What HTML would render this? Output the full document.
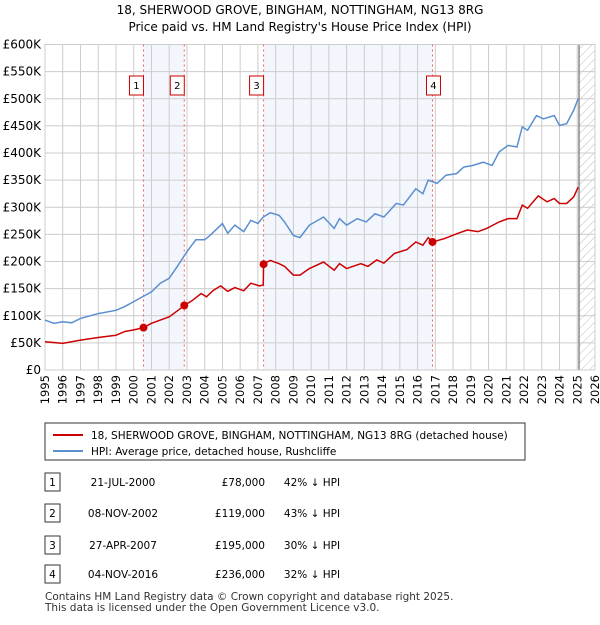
<!DOCTYPE html>
<html><head><meta charset="utf-8"><style>
body{margin:0;background:#fff;font-family:"Liberation Sans","DejaVu Sans",sans-serif;}
svg text{font-family:"DejaVu Sans","Liberation Sans",sans-serif;}
</style></head><body>
<svg width="600" height="620" xmlns="http://www.w3.org/2000/svg">
<defs><pattern id="hatch" width="6" height="6" patternUnits="userSpaceOnUse" patternTransform="rotate(45)"><line x1="0" y1="0" x2="0" y2="6" stroke="#bbb" stroke-width="1"/></pattern></defs>
<text x="300" y="14" text-anchor="middle" font-size="12">18, SHERWOOD GROVE, BINGHAM, NOTTINGHAM, NG13 8RG</text>
<text x="300" y="31" text-anchor="middle" font-size="12">Price paid vs. HM Land Registry's House Price Index (HPI)</text>
<g id="plot"></g>
<g id="legend">
<rect x="45" y="423" width="480" height="37" fill="#fff" stroke="#333"/>
<line x1="53" y1="435" x2="83" y2="435" stroke="#cc0000" stroke-width="2"/>
<text x="91" y="439" font-size="10.5">18, SHERWOOD GROVE, BINGHAM, NOTTINGHAM, NG13 8RG (detached house)</text>
<line x1="53" y1="451" x2="83" y2="451" stroke="#5b8fd0" stroke-width="2"/>
<text x="91" y="455" font-size="10.5">HPI: Average price, detached house, Rushcliffe</text>
</g>
<g id="table" font-size="10.5"></g>
<text x="45" y="600" font-size="10.5" fill="#333">Contains HM Land Registry data © Crown copyright and database right 2025.</text>
<text x="45" y="611" font-size="10.5" fill="#333">This data is licensed under the Open Government Licence v3.0.</text>
</svg>
<script>
const hpiYears=[1995,1995.5,1996,1996.5,1997,1998,1999,1999.5,2000,2000.5,2001,2001.5,2002,2002.5,2003,2003.5,2004,2004.3,2005,2005.3,2005.7,2006.2,2006.6,2007,2007.3,2007.7,2008.2,2008.5,2009,2009.37,2009.9,2010.7,2011.3,2011.6,2012,2012.6,2013.1,2013.6,2014.1,2014.8,2015.2,2015.9,2016.3,2016.6,2017.1,2017.6,2018.2,2018.6,2019.1,2019.7,2020.2,2020.6,2021.1,2021.6,2021.9,2022.2,2022.7,2023.1,2023.7,2024,2024.4,2024.8,2025.05];
const hpiValues=[92,86,89,87,95,104,110,117,126,135,144,160,169,193,218,240,240,248,270,252,267,255,276,270,282,290,285,273,248,244,267,282,261,279,267,279,273,288,282,307,304,334,325,350,344,359,362,374,377,383,377,402,414,411,448,442,469,463,469,451,454,479,500];
const ppYears=[1995,1996,1997,1998,1999,1999.5,2000,2000.55,2001,2001.5,2002,2002.5,2002.85,2003.3,2003.8,2004.1,2004.5,2004.9,2005.3,2005.7,2006.2,2006.6,2007.1,2007.3,2007.32,2007.7,2008.2,2008.5,2009,2009.37,2009.9,2010.7,2011.3,2011.6,2012,2012.8,2013.2,2013.7,2014.1,2014.7,2015.4,2015.9,2016.3,2016.6,2016.84,2017.5,2018.2,2018.8,2019.4,2019.9,2020.6,2021.1,2021.6,2021.9,2022.2,2022.8,2023.3,2023.7,2024,2024.4,2024.8,2025.05];
const ppValues=[52,49,55,60,64,71,74,78,86,92,98,110,119,128,141,135,147,155,145,152,146,160,155,157,196,202,196,191,175,175,187,199,184,196,187,196,191,203,197,215,222,236,230,244,236,242,251,258,255,261,273,279,279,304,298,321,310,316,307,307,319,337];
const saleLabels=["1","2","3","4"];
const saleYears=[2000.55,2002.85,2007.32,2016.84];
const saleValues=[78,119,195,236];
const saleDates=["21-JUL-2000","08-NOV-2002","27-APR-2007","04-NOV-2016"];
const salePrices=["£78,000","£119,000","£195,000","£236,000"];
const salePct=["42% ↓ HPI","43% ↓ HPI","30% ↓ HPI","32% ↓ HPI"];
const yTicks=[0,50,100,150,200,250,300,350,400,450,500,550,600];
const yTickLabels=["£0","£50K","£100K","£150K","£200K","£250K","£300K","£350K","£400K","£450K","£500K","£550K","£600K"];
const xTicks=[1995,1996,1997,1998,1999,2000,2001,2002,2003,2004,2005,2006,2007,2008,2009,2010,2011,2012,2013,2014,2015,2016,2017,2018,2019,2020,2021,2022,2023,2024,2025,2026];
const dataEnd=2025.1;

const X0=45,X1=595,Y0=370,Y1=44.5;
const sx=y=>X0+(y-1995)/(2026-1995)*(X1-X0);
const sy=v=>Y0-v/600*(Y0-Y1);
const NS="http://www.w3.org/2000/svg";
function mk(tag,attrs,parent){const e=document.createElementNS(NS,tag);for(const k in attrs)e.setAttribute(k,attrs[k]);parent.appendChild(e);return e;}
const plot=document.getElementById('plot');
for(let i=0;i<2;i++){
  const a=i===0?0:2;
  const r=mk('rect',{x:sx(saleYears[a]),y:Y1,width:sx(saleYears[a+1])-sx(saleYears[a]),height:Y0-Y1,fill:'#eef3fc',opacity:0.7},plot);
  
  
}
const h=mk('rect',{x:sx(dataEnd),y:Y1,width:X1-sx(dataEnd),height:Y0-Y1,fill:'url(#hatch)'},plot);


yTicks.forEach((v,i)=>{
  const l=mk('line',{x1:X0,x2:X1,y1:sy(v),y2:sy(v),stroke:'#ccc'},plot);
  
  
  const t=mk('text',{x:X0-4,y:sy(v)+4,'text-anchor':'end','font-size':12},plot);
  t.textContent=yTickLabels[i];
  
  
});
xTicks.forEach(y=>{
  const l=mk('line',{x1:sx(y),x2:sx(y),y1:Y1,y2:Y0,stroke:'#ccc'},plot);
  
  
  const x=sx(y)+4, yy=375;
  const t=mk('text',{x:x,y:yy,'text-anchor':'end','font-size':11.5,transform:`rotate(-90 ${x} ${yy})`},plot);
  t.textContent=y;
  
  
});
const dl=mk('line',{x1:sx(dataEnd),x2:sx(dataEnd),y1:Y1,y2:Y0,stroke:'#888','stroke-width':1.5},plot);


const fr=mk('rect',{x:X0,y:Y1,width:X1-X0,height:Y0-Y1,fill:'none',stroke:'#ccc'},plot);


saleYears.forEach((y,i)=>{
  const l=mk('line',{x1:sx(y),x2:sx(y),y1:Y1,y2:Y0,stroke:'#f06060','stroke-dasharray':'2,3'},plot);
  
  
  const bx=sx(y)-(i===3?0:8)-6;
  const r=mk('rect',{x:bx,y:76,width:14,height:19,fill:'#fff',stroke:'#c00'},plot);
  
  
  const t=mk('text',{x:bx+7,y:89,'text-anchor':'middle','font-size':10},plot);
  t.textContent=saleLabels[i];
  
  
});
const hp=mk('polyline',{points:hpiYears.map((y,i)=>sx(y)+','+sy(hpiValues[i])).join(' '),fill:'none',stroke:'#5b8fd0','stroke-width':1.5},plot);


const pp=mk('polyline',{points:ppYears.map((y,i)=>sx(y)+','+sy(ppValues[i])).join(' '),fill:'none',stroke:'#cc0000','stroke-width':1.5},plot);


saleYears.forEach((y,i)=>{
  const c=mk('circle',{cx:sx(y),cy:sy(saleValues[i]),r:4,fill:'#cc0000'},plot);
  
  
});
const tb=document.getElementById('table');
saleLabels.forEach((s,i)=>{
  const yy=[482,513,545,574][i];
  const r=mk('rect',{x:45,y:yy-9,width:15,height:18,fill:'#fff',stroke:'#333'},tb);
  
  
  const cells=[[52.5,s,'middle'],[123,saleDates[i],'middle'],[265,salePrices[i],'end'],[312,salePct[i],'middle']];
  cells.forEach(c=>{
    const t=mk('text',{x:c[0],y:yy+4,'text-anchor':c[2]},tb);
    t.textContent=c[1];
    
    
  });
});
</script>
</body></html>
